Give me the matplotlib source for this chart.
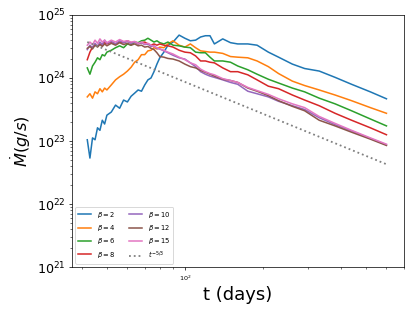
#!/usr/bin/env python3

import numpy as np
import matplotlib

matplotlib.use("Agg")
import matplotlib.pyplot as plt

# temps (jours), grille commune pour toutes les courbes
t_days = [
    42, 43, 44, 45, 46, 47, 48, 49, 50, 52, 54, 56, 58, 60, 62, 64, 66, 68,
    70, 72, 74, 76, 78, 80, 83, 86, 90, 95, 100, 105, 110, 115, 120, 125,
    130, 140, 150, 160, 175, 190, 210, 230, 260, 290, 330, 380, 440, 520, 600,
]

# log10 du taux d'accrétion (g/s) pour chaque beta
beta_labels = [2, 4, 6, 8, 10, 12, 15]

logm_b2 = [
    23.02, 22.73, 23.05, 23.02, 23.21, 23.17, 23.33, 23.27, 23.41, 23.46,
    23.57, 23.52, 23.65, 23.62, 23.71, 23.76, 23.81, 23.79, 23.89, 23.97,
    24.00, 24.10, 24.22, 24.32, 24.41, 24.52, 24.57, 24.68, 24.63, 24.59,
    24.60, 24.65, 24.67, 24.67, 24.54, 24.62, 24.56, 24.54, 24.54, 24.52,
    24.41, 24.33, 24.22, 24.15, 24.11, 24.01, 23.90, 23.78, 23.67,
]
logm_b4 = [
    23.70, 23.75, 23.68, 23.78, 23.75, 23.83, 23.78, 23.84, 23.81, 23.89,
    23.97, 24.02, 24.06, 24.11, 24.17, 24.25, 24.29, 24.37, 24.37, 24.43,
    24.44, 24.48, 24.46, 24.49, 24.48, 24.54, 24.59, 24.52, 24.49, 24.54,
    24.48, 24.43, 24.42, 24.41, 24.41, 24.39, 24.34, 24.33, 24.32, 24.27,
    24.18, 24.07, 23.95, 23.88, 23.81, 23.73, 23.64, 23.53, 23.44,
]
logm_b6 = [
    24.16, 24.06, 24.19, 24.25, 24.32, 24.29, 24.37, 24.35, 24.41, 24.44,
    24.48, 24.51, 24.48, 24.54, 24.52, 24.57, 24.56, 24.59, 24.60, 24.63,
    24.60, 24.57, 24.59, 24.56, 24.54, 24.57, 24.52, 24.51, 24.49, 24.48,
    24.41, 24.40, 24.40, 24.33, 24.27, 24.27, 24.25, 24.19, 24.13, 24.06,
    23.98, 23.92, 23.84, 23.78, 23.68, 23.59, 23.48, 23.35, 23.24,
]
logm_b8 = [
    24.29, 24.41, 24.49, 24.52, 24.51, 24.54, 24.52, 24.56, 24.54, 24.57,
    24.54, 24.57, 24.56, 24.59, 24.56, 24.57, 24.54, 24.56, 24.57, 24.54,
    24.52, 24.54, 24.52, 24.54, 24.52, 24.51, 24.49, 24.44, 24.41, 24.40,
    24.35, 24.27, 24.27, 24.25, 24.24, 24.16, 24.10, 24.10, 24.05, 23.97,
    23.87, 23.83, 23.73, 23.65, 23.56, 23.44, 23.33, 23.21, 23.10,
]
logm_b10 = [
    24.45, 24.52, 24.48, 24.55, 24.50, 24.57, 24.53, 24.60, 24.55, 24.58,
    24.54, 24.59, 24.56, 24.58, 24.55, 24.57, 24.54, 24.56, 24.53, 24.54,
    24.50, 24.51, 24.47, 24.46, 24.43, 24.40, 24.36, 24.32, 24.30, 24.24,
    24.18, 24.10, 24.06, 24.03, 24.01, 23.97, 23.93, 23.90, 23.79, 23.75,
    23.70, 23.63, 23.56, 23.50, 23.37, 23.26, 23.16, 23.04, 22.94,
]
logm_b12 = [
    24.47, 24.50, 24.46, 24.52, 24.49, 24.53, 24.50, 24.54, 24.51, 24.55,
    24.52, 24.56, 24.53, 24.55, 24.52, 24.54, 24.51, 24.52, 24.49, 24.50,
    24.47, 24.45, 24.40, 24.34, 24.33, 24.31, 24.30, 24.27, 24.22, 24.18,
    24.16, 24.12, 24.09, 24.06, 24.03, 23.98, 23.96, 23.93, 23.84, 23.79,
    23.72, 23.64, 23.55, 23.48, 23.33, 23.24, 23.14, 23.03, 22.93,
]
logm_b15 = [
    24.52, 24.57, 24.53, 24.60, 24.55, 24.62, 24.57, 24.60, 24.56, 24.60,
    24.57, 24.61, 24.58, 24.59, 24.57, 24.58, 24.55, 24.57, 24.54, 24.55,
    24.52, 24.50, 24.48, 24.46, 24.44, 24.41, 24.38, 24.33, 24.29, 24.24,
    24.21, 24.14, 24.10, 24.07, 24.05, 23.99, 23.96, 23.93, 23.85, 23.80,
    23.74, 23.67, 23.59, 23.53, 23.39, 23.28, 23.17, 23.05, 22.95,
]

# droite de référence t^(-5/3) (extrémités)
t_ref = [42, 610]
logm_ref = [24.57, 22.62]


def plot_mdot() -> None:
    fig, ax = plt.subplots(figsize=(415 / 65, 311 / 65), dpi=65)
    fig.subplots_adjust(left=0.173, right=0.973, bottom=0.141, top=0.952)

    series = [logm_b2, logm_b4, logm_b6, logm_b8, logm_b10, logm_b12, logm_b15]
    for beta, logm in zip(beta_labels, series):
        ax.plot(t_days, 10 ** np.array(logm), lw=1.7, label=rf"$\beta = {beta}$")

    ax.plot(
        t_ref,
        10 ** np.array(logm_ref),
        ls=":",
        lw=2,
        color="grey",
        label=r"$t^{-5/3}$",
    )

    ax.set_xscale("log")
    ax.set_yscale("log")
    ax.set_xlim(36.6, 700)
    ax.set_ylim(1e21, 1e25)

    ax.set_xlabel("t (days)", fontsize=20)
    ax.set_ylabel(r"$\dot{M}(g/s)$", fontsize=18)
    ax.tick_params(axis="y", labelsize=14)
    ax.tick_params(axis="x", labelsize=7)

    ax.legend(loc="lower left", ncol=2, fontsize=7.5)

    plt.savefig("out.png", dpi=65)


if __name__ == "__main__":
    plot_mdot()
